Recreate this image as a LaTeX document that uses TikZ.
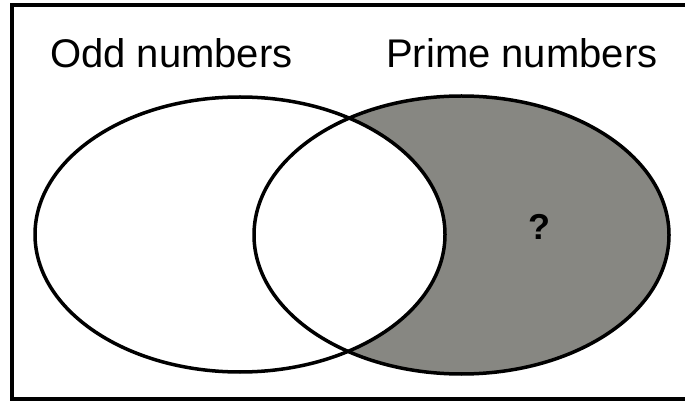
\documentclass[tikz,border=0pt]{standalone}
\usepackage{fontspec}
\setmainfont{Liberation Sans}
\definecolor{venngray}{RGB}{135,135,130}
\tikzset{
  lbl/.style={inner sep=0pt, anchor=base west, font=\fontsize{40}{40}\selectfont},
  outline/.style={line width=3.5pt, draw=black},
}
\begin{document}
\begin{tikzpicture}[x=1pt,y=-1pt]
\useasboundingbox (0,0) rectangle (685,403);
\fill[white] (0,0) rectangle (685,403);
\draw[line width=4.5pt] (12,5) rectangle (700,399);
% shaded region: prime but not odd
\fill[venngray] (461.5,235) ellipse [x radius=207.5, y radius=139];
\begin{scope}
  \clip (461.5,235) ellipse [x radius=207.5, y radius=139];
  \fill[white] (240,234.5) ellipse [x radius=205, y radius=137.5];
\end{scope}
\draw[outline] (240,234.5) ellipse [x radius=205, y radius=137.5];
\draw[outline] (461.5,235) ellipse [x radius=207.5, y radius=139];
\node[lbl] (odd) at (50,68) {Odd numbers};
\node[lbl] (prime) at (386,68) {Prime numbers};
\node[font=\fontsize{36}{36}\selectfont\bfseries, inner sep=0pt] (q) at (539,227) {?};
\end{tikzpicture}
\end{document}
